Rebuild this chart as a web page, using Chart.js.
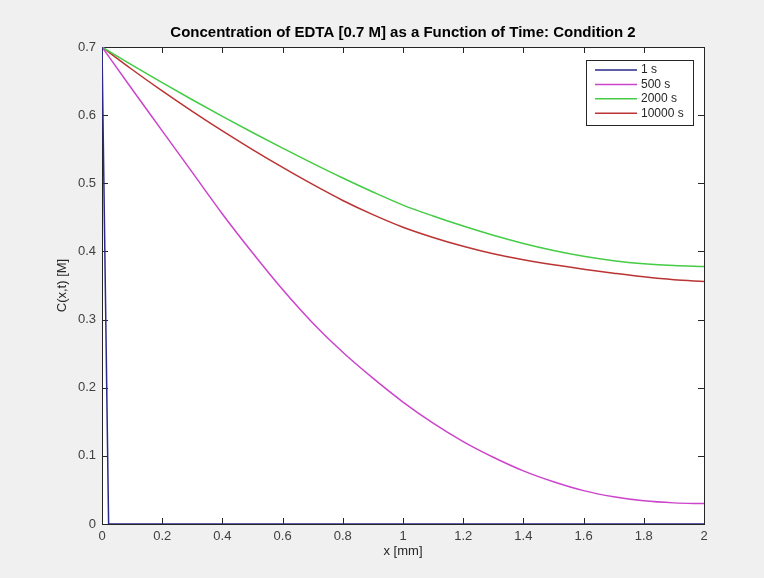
<!DOCTYPE html>
<html>
<head>
<meta charset="utf-8">
<script src="https://cdn.jsdelivr.net/npm/chart.js@4/dist/chart.umd.min.js"></script>
<style>
  body { margin: 0; background: #f0f0f0; }
  canvas { display: block; }
</style>
</head>
<body>
<canvas id="c" width="764" height="578"></canvas>
<script>
// values
var xPos = [0, 0.1, 0.2, 0.3, 0.4, 0.5, 0.6, 0.7, 0.8, 0.9, 1.0,
            1.1, 1.2, 1.3, 1.4, 1.5, 1.6, 1.7, 1.8, 1.9, 2.0];
var c500 = [0.700, 0.638, 0.577, 0.516, 0.455, 0.398, 0.344, 0.295, 0.252, 0.214, 0.179,
            0.148, 0.121, 0.098, 0.078, 0.062, 0.049, 0.040, 0.034, 0.031, 0.030];
var c2000 = [0.700, 0.6735, 0.6477, 0.6226, 0.5982, 0.5745, 0.5515, 0.5292, 0.5077, 0.4872, 0.468,
             0.452, 0.4372, 0.4237, 0.4117, 0.4014, 0.3929, 0.3864, 0.3819, 0.3792, 0.378];
var c10000 = [0.700, 0.667, 0.6355, 0.6055, 0.5768, 0.5494, 0.5233, 0.4983, 0.4748, 0.454, 0.4355,
              0.4205, 0.4075, 0.3965, 0.3878, 0.3804, 0.374, 0.3681, 0.3627, 0.3585, 0.356];
var x1s = [0, 0.022, 2];
var c1s = [0.7, 0, 0];
var seriesNames = ['1 s', '500 s', '2000 s', '10000 s'];

var axisCol = '#262626';
var font = '"Liberation Sans", Arial, Helvetica, sans-serif';

function pts(xs, ys) {
  var out = [];
  for (var i = 0; i < xs.length; i++) out.push({x: xs[i], y: ys[i]});
  return out;
}

// white plot area + matlab style box with inward ticks on all four sides
var plotBox = {
  id: 'plotBox',
  beforeDatasetsDraw(chart) {
    var a = chart.chartArea, ctx = chart.ctx;
    var xs = chart.scales.x, ys = chart.scales.y;
    ctx.save();
    ctx.fillStyle = '#ffffff';
    ctx.fillRect(a.left, a.top, a.right - a.left, a.bottom - a.top);
    ctx.strokeStyle = axisCol;
    ctx.lineWidth = 1;
    ctx.beginPath();
    xs.ticks.forEach(function (t) {
      var p = Math.round(xs.getPixelForValue(t.value)) + 0.5;
      ctx.moveTo(p, a.bottom); ctx.lineTo(p, a.bottom - 6);
      ctx.moveTo(p, a.top); ctx.lineTo(p, a.top + 6);
    });
    ys.ticks.forEach(function (t) {
      var p = Math.round(ys.getPixelForValue(t.value)) + 0.5;
      ctx.moveTo(a.left, p); ctx.lineTo(a.left + 6, p);
      ctx.moveTo(a.right, p); ctx.lineTo(a.right - 6, p);
    });
    ctx.stroke();
    ctx.strokeRect(Math.round(a.left) + 0.5, Math.round(a.top) + 0.5,
                   Math.round(a.right - a.left), Math.round(a.bottom - a.top));
    ctx.restore();
  }
};

// boxed legend in the top right corner
var boxLegend = {
  id: 'boxLegend',
  afterDatasetsDraw(chart) {
    var ctx = chart.ctx;
    var lx = 586.5, ly = 60.5, lw = 107, lh = 65;
    ctx.save();
    ctx.fillStyle = '#ffffff';
    ctx.strokeStyle = axisCol;
    ctx.lineWidth = 1;
    ctx.fillRect(lx, ly, lw, lh);
    ctx.strokeRect(lx, ly, lw, lh);
    ctx.font = '12px ' + font;
    ctx.textBaseline = 'middle';
    chart.data.datasets.forEach(function (ds, i) {
      var y = 70 + i * 14.4;
      ctx.strokeStyle = ds.borderColor;
      ctx.lineWidth = 1.5;
      ctx.beginPath();
      ctx.moveTo(595, y); ctx.lineTo(637, y);
      ctx.stroke();
      ctx.fillStyle = axisCol;
      ctx.fillText(ds.label, 641, y);
    });
    ctx.restore();
  }
};

new Chart(document.getElementById('c'), {
  type: 'line',
  data: {
    datasets: [
      { label: seriesNames[0], data: pts(x1s, c1s), borderColor: '#2a2a8c', tension: 0 },
      { label: seriesNames[1], data: pts(xPos, c500), borderColor: '#cc44cc', cubicInterpolationMode: 'monotone' },
      { label: seriesNames[2], data: pts(xPos, c2000), borderColor: '#44cc44', cubicInterpolationMode: 'monotone' },
      { label: seriesNames[3], data: pts(xPos, c10000), borderColor: '#bb3333', cubicInterpolationMode: 'monotone' }
    ]
  },
  options: {
    responsive: false,
    animation: false,
    layout: { padding: { left: 0, right: 60, top: 0, bottom: 0 } },
    elements: {
      point: { radius: 0 },
      line: { borderWidth: 1.5, fill: false }
    },
    plugins: {
      legend: { display: false },
      tooltip: { enabled: false },
      title: {
        display: true,
        fullSize: false,
        text: 'Concentration of EDTA [0.7 M] as a Function of Time: Condition 2',
        color: '#000000',
        font: { family: font, size: 15, weight: 'bold' },
        padding: { top: 24, bottom: 5 }
      }
    },
    scales: {
      x: {
        type: 'linear',
        min: 0, max: 2,
        ticks: { stepSize: 0.2, color: '#404040', font: { family: font, size: 13 }, padding: 5,
                 maxRotation: 0, callback: function (v) { return Math.round(v * 10) / 10 + ''; } },
        grid: { display: false, drawTicks: false },
        border: { display: false },
        title: { display: true, text: 'x [mm]', color: '#262626', font: { family: font, size: 13 },
                 padding: { top: 0, bottom: 19 } },
        afterFit: function (s) { s.height = 54; }
      },
      y: {
        type: 'linear',
        min: 0, max: 0.7,
        ticks: { stepSize: 0.1, color: '#404040', font: { family: font, size: 13 }, padding: 6,
                 callback: function (v) { return Math.round(v * 10) / 10 + ''; } },
        grid: { display: false, drawTicks: false },
        border: { display: false },
        title: { display: true, text: 'C(x,t) [M]', color: '#262626', font: { family: font, size: 13 },
                 padding: { top: 55, bottom: 0 } },
        afterFit: function (s) { s.width = 102; }
      }
    }
  },
  plugins: [plotBox, boxLegend]
});
</script>
</body>
</html>
